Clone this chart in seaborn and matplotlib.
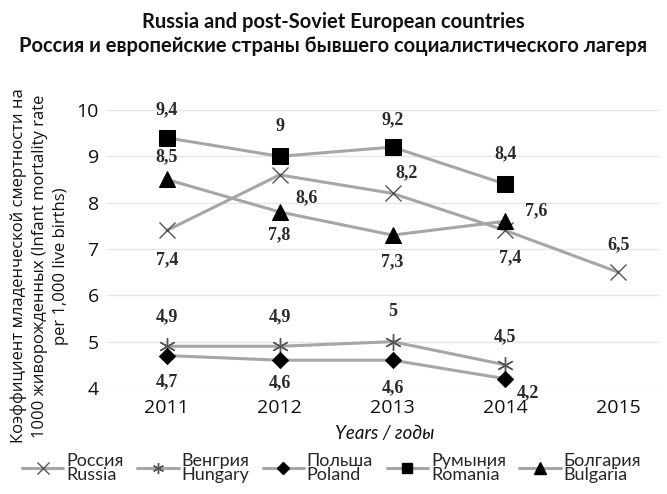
import matplotlib
matplotlib.use("Agg")
import matplotlib.pyplot as plt
import seaborn as sns
import pandas as pd
from matplotlib.lines import Line2D

years = [2011, 2012, 2013, 2014, 2015]
russia = [7.4, 8.6, 8.2, 7.4, 6.5]
hungary = [4.9, 4.9, 5.0, 4.5]
poland = [4.7, 4.6, 4.6, 4.2]
romania = [9.4, 9.0, 9.2, 8.4]
bulgaria = [8.5, 7.8, 7.3, 7.6]
series_names = ["Россия\nRussia", "Венгрия\nHungary", "Польша\nPoland",
                "Румыния\nRomania", "Болгария\nBulgaria"]
yticks = [4, 5, 6, 7, 8, 9, 10]
title = "Russia and post-Soviet European countries\nРоссия и европейские страны бывшего социалистического лагеря"
ylabel = "Коэффициент младенческой смертности на\n1000 живорожденных (Infant mortality rate\nper 1,000 live births)"
xlabel = "Years / годы"

# label offsets in pixels (style)
offsets = {
    "russia": [(0, -29), (27, -23), (14, 21), (5, -27), (0, 27)],
    "hungary": [(0, 30), (0, 30), (0, 30), (0, 28)],
    "poland": [(0, -26), (0, -23), (0, -28), (23, -14)],
    "romania": [(0, 28), (0, 30), (0, 27), (0, 30)],
    "bulgaria": [(0, 23), (0, -23), (0, -27), (31, 10)],
}

sns.set_theme(style="white")
plt.rcParams['font.family'] = ['Open Sans', 'DejaVu Sans']

fig = plt.figure(figsize=(6.67, 4.94), dpi=100)
ax = fig.add_axes([107/667, 1-388/494, (660-107)/667, (388-110)/494])

line_col = "#a6a6a6"
specs = [
    ("russia", russia, dict(marker="x", markersize=11, markeredgecolor="#555555", markeredgewidth=1.0), 8),
    ("hungary", hungary, dict(marker=(6, 2, 0), markersize=12, markeredgecolor="#555555", markeredgewidth=1.0), 8),
    ("poland", poland, dict(marker="D", markersize=8, markerfacecolor="black", markeredgecolor="black"), 6),
    ("romania", romania, dict(marker="s", markersize=11, markerfacecolor="black", markeredgecolor="black"), 7.5),
    ("bulgaria", bulgaria, dict(marker="^", markersize=11, markerfacecolor="black", markeredgecolor="black"), 8),
]

handles = []
for (key, vals, mk, lms), name in zip(specs, series_names):
    df = pd.DataFrame({"year": years[:len(vals)], "value": vals})
    sns.lineplot(data=df, x="year", y="value", ax=ax, color=line_col, linewidth=2.2, **mk)
    for (x, y), off in zip(zip(df["year"], df["value"]), offsets[key]):
        lab = f"{y:g}".replace(".", ",")
        ax.annotate(lab, (x, y), xytext=off, textcoords="offset pixels",
                    ha="center", va="center", fontsize=13, fontweight="bold",
                    family="Liberation Serif", color="#2b2b2b")
    lmk = dict(mk)
    lmk["markersize"] = lms
    handles.append(Line2D([], [], color=line_col, linewidth=2.2, **lmk))

ax.set_xlim(2010.47, 2015.37)
ax.set_ylim(4, 10)
ax.set_xticks(years)
ax.set_xticklabels([str(y) for y in years])
ax.set_yticks(yticks)
ax.set_yticklabels([str(t) for t in yticks])
ax.tick_params(axis="both", length=0, labelsize=14, colors="#111111")
ax.tick_params(axis="y", pad=6)
ax.tick_params(axis="x", pad=8)
ax.grid(axis="y", color="#e6e6e6", linewidth=1)
ax.grid(axis="x", visible=False)
for s in ax.spines.values():
    s.set_visible(False)
ax.set_xlabel("")
ax.set_ylabel("")

fig.text(0.5, 1-34/494, title, ha="center", va="center", fontsize=14.5,
         fontweight="bold", family="Lato", linespacing=1.25, color="#111111")
fig.text(40/667, 1-266/494, ylabel, rotation=90, ha="center", va="center",
         fontsize=12, linespacing=1.4, color="#111111")
fig.text(385/667, 1-433/494, xlabel, ha="center", va="center", fontsize=13.5,
         style="italic", family="Lato", color="#111111")

leg = fig.legend(handles, series_names, ncol=5, loc="center",
                 bbox_to_anchor=(0.497, 1-468/494), frameon=False,
                 handlelength=2.3, handletextpad=0.15, columnspacing=0.75,
                 prop={"family": "Lato", "size": 13})
for t in leg.get_texts():
    t.set_linespacing(0.9)

fig.savefig("out.png", dpi=100)
